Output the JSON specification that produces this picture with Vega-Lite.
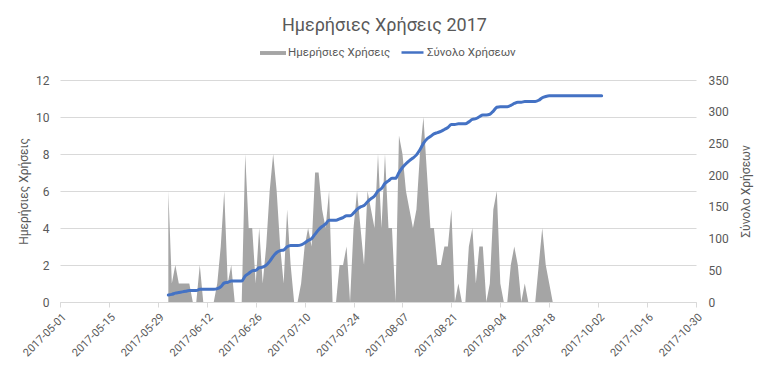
{
  "$schema": "https://vega.github.io/schema/vega-lite/v6.json",
  "width": 636,
  "height": 222,
  "autosize": {"type": "none"},
  "padding": {"left": 60, "top": 80, "right": 72, "bottom": 67},
  "background": "white",
  "title": {"text": "Ημερήσιες Χρήσεις 2017", "fontSize": 18, "font": "Roboto", "fontWeight": "normal", "color": "#595959", "anchor": "middle", "frame": "bounds", "offset": 5},
  "data": {"values": [
    {"date": "2017-06-01", "daily": 6, "total": 11},
    {"date": "2017-06-02", "daily": 1, "total": 12},
    {"date": "2017-06-03", "daily": 2, "total": 14},
    {"date": "2017-06-04", "daily": 1, "total": 15},
    {"date": "2017-06-05", "daily": 1, "total": 16},
    {"date": "2017-06-06", "daily": 1, "total": 17},
    {"date": "2017-06-07", "daily": 1, "total": 18},
    {"date": "2017-06-08", "daily": 0, "total": 18},
    {"date": "2017-06-09", "daily": 0, "total": 18},
    {"date": "2017-06-10", "daily": 2, "total": 20},
    {"date": "2017-06-11", "daily": 0, "total": 20},
    {"date": "2017-06-12", "daily": 0, "total": 20},
    {"date": "2017-06-13", "daily": 0, "total": 20},
    {"date": "2017-06-14", "daily": 0, "total": 20},
    {"date": "2017-06-15", "daily": 1, "total": 21},
    {"date": "2017-06-16", "daily": 3, "total": 24},
    {"date": "2017-06-17", "daily": 6, "total": 30},
    {"date": "2017-06-18", "daily": 1, "total": 31},
    {"date": "2017-06-19", "daily": 2, "total": 33},
    {"date": "2017-06-20", "daily": 0, "total": 33},
    {"date": "2017-06-21", "daily": 0, "total": 33},
    {"date": "2017-06-22", "daily": 0, "total": 33},
    {"date": "2017-06-23", "daily": 8, "total": 41},
    {"date": "2017-06-24", "daily": 4, "total": 45},
    {"date": "2017-06-25", "daily": 4, "total": 49},
    {"date": "2017-06-26", "daily": 1, "total": 50},
    {"date": "2017-06-27", "daily": 4, "total": 54},
    {"date": "2017-06-28", "daily": 1, "total": 55},
    {"date": "2017-06-29", "daily": 3, "total": 58},
    {"date": "2017-06-30", "daily": 6, "total": 64},
    {"date": "2017-07-01", "daily": 8, "total": 72},
    {"date": "2017-07-02", "daily": 6, "total": 78},
    {"date": "2017-07-03", "daily": 3, "total": 81},
    {"date": "2017-07-04", "daily": 1, "total": 82},
    {"date": "2017-07-05", "daily": 5, "total": 87},
    {"date": "2017-07-06", "daily": 2, "total": 89},
    {"date": "2017-07-07", "daily": 0, "total": 89},
    {"date": "2017-07-08", "daily": 0, "total": 89},
    {"date": "2017-07-09", "daily": 1, "total": 90},
    {"date": "2017-07-10", "daily": 3, "total": 93},
    {"date": "2017-07-11", "daily": 4, "total": 97},
    {"date": "2017-07-12", "daily": 3, "total": 100},
    {"date": "2017-07-13", "daily": 7, "total": 107},
    {"date": "2017-07-14", "daily": 7, "total": 114},
    {"date": "2017-07-15", "daily": 5, "total": 119},
    {"date": "2017-07-16", "daily": 4, "total": 123},
    {"date": "2017-07-17", "daily": 6, "total": 129},
    {"date": "2017-07-18", "daily": 0, "total": 129},
    {"date": "2017-07-19", "daily": 0, "total": 129},
    {"date": "2017-07-20", "daily": 2, "total": 131},
    {"date": "2017-07-21", "daily": 2, "total": 133},
    {"date": "2017-07-22", "daily": 3, "total": 136},
    {"date": "2017-07-23", "daily": 0, "total": 136},
    {"date": "2017-07-24", "daily": 4, "total": 140},
    {"date": "2017-07-25", "daily": 6, "total": 146},
    {"date": "2017-07-26", "daily": 4, "total": 150},
    {"date": "2017-07-27", "daily": 2, "total": 152},
    {"date": "2017-07-28", "daily": 6, "total": 158},
    {"date": "2017-07-29", "daily": 5, "total": 163},
    {"date": "2017-07-30", "daily": 4, "total": 167},
    {"date": "2017-07-31", "daily": 8, "total": 175},
    {"date": "2017-08-01", "daily": 4, "total": 179},
    {"date": "2017-08-02", "daily": 8, "total": 187},
    {"date": "2017-08-03", "daily": 4, "total": 191},
    {"date": "2017-08-04", "daily": 4, "total": 195},
    {"date": "2017-08-05", "daily": 0, "total": 195},
    {"date": "2017-08-06", "daily": 9, "total": 204},
    {"date": "2017-08-07", "daily": 8, "total": 212},
    {"date": "2017-08-08", "daily": 6, "total": 218},
    {"date": "2017-08-09", "daily": 5, "total": 223},
    {"date": "2017-08-10", "daily": 4, "total": 227},
    {"date": "2017-08-11", "daily": 5, "total": 232},
    {"date": "2017-08-12", "daily": 8, "total": 240},
    {"date": "2017-08-13", "daily": 10, "total": 250},
    {"date": "2017-08-14", "daily": 7, "total": 257},
    {"date": "2017-08-15", "daily": 4, "total": 261},
    {"date": "2017-08-16", "daily": 4, "total": 265},
    {"date": "2017-08-17", "daily": 2, "total": 267},
    {"date": "2017-08-18", "daily": 2, "total": 269},
    {"date": "2017-08-19", "daily": 3, "total": 272},
    {"date": "2017-08-20", "daily": 3, "total": 275},
    {"date": "2017-08-21", "daily": 5, "total": 280},
    {"date": "2017-08-22", "daily": 0, "total": 280},
    {"date": "2017-08-23", "daily": 1, "total": 281},
    {"date": "2017-08-24", "daily": 0, "total": 281},
    {"date": "2017-08-25", "daily": 0, "total": 281},
    {"date": "2017-08-26", "daily": 3, "total": 284},
    {"date": "2017-08-27", "daily": 4, "total": 288},
    {"date": "2017-08-28", "daily": 1, "total": 289},
    {"date": "2017-08-29", "daily": 3, "total": 292},
    {"date": "2017-08-30", "daily": 3, "total": 295},
    {"date": "2017-08-31", "daily": 0, "total": 295},
    {"date": "2017-09-01", "daily": 1, "total": 296},
    {"date": "2017-09-02", "daily": 5, "total": 301},
    {"date": "2017-09-03", "daily": 6, "total": 307},
    {"date": "2017-09-04", "daily": 1, "total": 308},
    {"date": "2017-09-05", "daily": 0, "total": 308},
    {"date": "2017-09-06", "daily": 0, "total": 308},
    {"date": "2017-09-07", "daily": 2, "total": 310},
    {"date": "2017-09-08", "daily": 3, "total": 313},
    {"date": "2017-09-09", "daily": 2, "total": 315},
    {"date": "2017-09-10", "daily": 0, "total": 315},
    {"date": "2017-09-11", "daily": 1, "total": 316},
    {"date": "2017-09-12", "daily": 0, "total": 316},
    {"date": "2017-09-13", "daily": 0, "total": 316},
    {"date": "2017-09-14", "daily": 0, "total": 316},
    {"date": "2017-09-15", "daily": 2, "total": 318},
    {"date": "2017-09-16", "daily": 4, "total": 322},
    {"date": "2017-09-17", "daily": 2, "total": 324},
    {"date": "2017-09-18", "daily": 1, "total": 325},
    {"date": "2017-09-19", "daily": 0, "total": 325},
    {"date": "2017-09-20", "daily": 0, "total": 325},
    {"date": "2017-09-21", "daily": 0, "total": 325},
    {"date": "2017-09-22", "daily": 0, "total": 325},
    {"date": "2017-09-23", "daily": 0, "total": 325},
    {"date": "2017-09-24", "daily": 0, "total": 325},
    {"date": "2017-09-25", "daily": 0, "total": 325},
    {"date": "2017-09-26", "daily": 0, "total": 325},
    {"date": "2017-09-27", "daily": 0, "total": 325},
    {"date": "2017-09-28", "daily": 0, "total": 325},
    {"date": "2017-09-29", "daily": 0, "total": 325},
    {"date": "2017-09-30", "daily": 0, "total": 325},
    {"date": "2017-10-01", "daily": 0, "total": 325},
    {"date": "2017-10-02", "daily": 0, "total": 325},
    {"date": "2017-10-03", "daily": 0, "total": 325}
  ]},
  "encoding": {
    "x": {
      "field": "date",
      "type": "temporal",
      "scale": {"type": "utc", "domain": [{"year": 2017, "month": 5, "date": 1, "utc": true}, {"year": 2017, "month": 10, "date": 30, "utc": true}]},
      "axis": {
        "title": null,
        "format": "%Y-%m-%d",
        "labelAngle": -45,
        "labelFontSize": 11,
        "grid": false,
        "ticks": true,
        "tickSize": 5,
        "labelPadding": 4,
        "values": [
          {"year": 2017, "month": 5, "date": 1, "utc": true},
          {"year": 2017, "month": 5, "date": 15, "utc": true},
          {"year": 2017, "month": 5, "date": 29, "utc": true},
          {"year": 2017, "month": 6, "date": 12, "utc": true},
          {"year": 2017, "month": 6, "date": 26, "utc": true},
          {"year": 2017, "month": 7, "date": 10, "utc": true},
          {"year": 2017, "month": 7, "date": 24, "utc": true},
          {"year": 2017, "month": 8, "date": 7, "utc": true},
          {"year": 2017, "month": 8, "date": 21, "utc": true},
          {"year": 2017, "month": 9, "date": 4, "utc": true},
          {"year": 2017, "month": 9, "date": 18, "utc": true},
          {"year": 2017, "month": 10, "date": 2, "utc": true},
          {"year": 2017, "month": 10, "date": 16, "utc": true},
          {"year": 2017, "month": 10, "date": 30, "utc": true}
        ]
      }
    }
  },
  "layer": [
    {
      "mark": {"type": "area", "opacity": 1, "interpolate": "linear"},
      "encoding": {
        "y": {
          "field": "daily",
          "type": "quantitative",
          "scale": {"domain": [0, 12], "nice": false},
          "axis": {"title": "Ημερήσιες Χρήσεις", "values": [0, 2, 4, 6, 8, 10, 12], "grid": true, "domain": false, "ticks": false, "labelPadding": 11, "titlePadding": 5}
        },
        "fill": {
          "datum": "Ημερήσιες Χρήσεις",
          "scale": {"domain": ["Ημερήσιες Χρήσεις"], "range": ["#a5a5a5"]},
          "legend": {
            "orient": "none",
            "legendX": 200,
            "legendY": -40,
            "title": null,
            "padding": 0,
            "labelFontSize": 11.5,
            "labelColor": "#595959",
            "labelFont": "Roboto",
            "symbolType": "M-1,-0.15H1V0.15H-1Z",
            "symbolSize": 676,
            "symbolStrokeWidth": 0,
            "symbolOpacity": 1,
            "labelOffset": 2
          }
        }
      }
    },
    {
      "mark": {"type": "line", "strokeWidth": 3, "interpolate": "monotone", "strokeCap": "round"},
      "encoding": {
        "y": {
          "field": "total",
          "type": "quantitative",
          "scale": {"domain": [0, 350], "nice": false},
          "axis": {"orient": "right", "title": "Σύνολο Χρήσεων", "titleAngle": 270, "values": [0, 50, 100, 150, 200, 250, 300, 350], "grid": false, "domain": false, "ticks": false, "labelPadding": 12, "titlePadding": 24}
        },
        "stroke": {
          "datum": "Σύνολο Χρήσεων",
          "scale": {"domain": ["Σύνολο Χρήσεων"], "range": ["#4472c4"]},
          "legend": {
            "orient": "none",
            "legendX": 340,
            "legendY": -40,
            "title": null,
            "padding": 0,
            "labelFontSize": 11.5,
            "labelColor": "#595959",
            "labelFont": "Roboto",
            "symbolType": "stroke",
            "symbolSize": 484,
            "symbolStrokeWidth": 2.5,
            "labelOffset": 2
          }
        }
      }
    }
  ],
  "resolve": {"scale": {"y": "independent"}},
  "config": {
    "font": "Roboto",
    "view": {"stroke": null},
    "axis": {
      "labelColor": "#595959",
      "titleColor": "#595959",
      "labelFontSize": 12,
      "titleFontSize": 12,
      "titleFontWeight": "normal",
      "gridColor": "#d9d9d9",
      "domainColor": "#d9d9d9",
      "tickColor": "#d9d9d9",
      "labelFont": "Roboto",
      "titleFont": "Roboto"
    }
  }
}
